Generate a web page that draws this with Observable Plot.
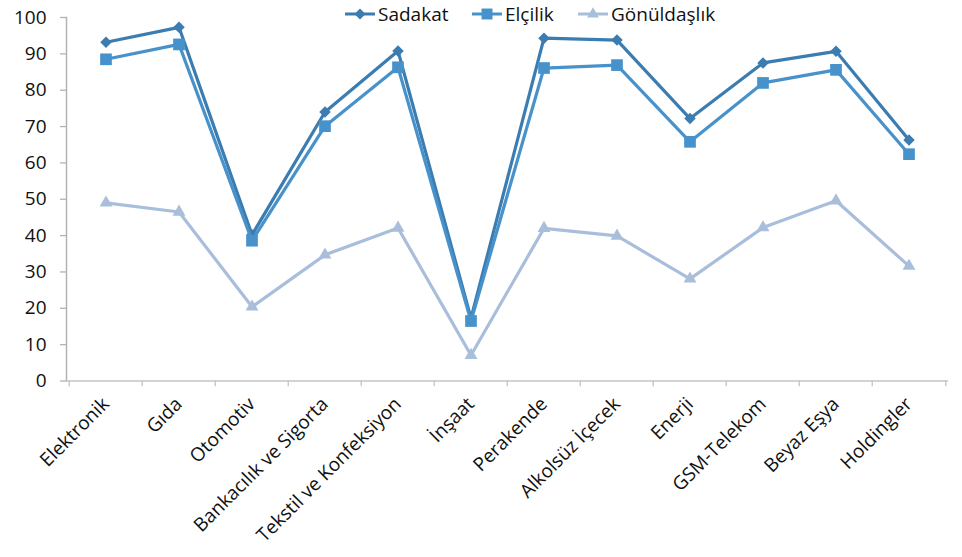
<!DOCTYPE html>
<html>
<head>
<meta charset="utf-8">
<script src="https://cdn.jsdelivr.net/npm/d3@7"></script>
<script src="https://cdn.jsdelivr.net/npm/@observablehq/plot@0.6"></script>
<style>
  html, body { margin: 0; padding: 0; background: #fff; }
  #wrap { position: relative; width: 962px; height: 557px; font-family: "Open Sans", sans-serif; }
  #legend { position: absolute; top: 0; left: 0; width: 962px; height: 27px; font-size: 19px; color: #111; }
  .item { position: absolute; top: 0; height: 27px; display: flex; align-items: center; gap: 3px; }
</style>
</head>
<body>
<div id="wrap">
  <div id="chart"></div>
  <div id="legend"></div>
</div>
<script>
const categories = ["Elektronik","Gıda","Otomotiv","Bankacılık ve Sigorta","Tekstil ve Konfeksiyon","İnşaat","Perakende","Alkolsüz İçecek","Enerji","GSM-Telekom","Beyaz Eşya","Holdingler"];
const seriesNames = ["Sadakat","Elçilik","Gönüldaşlık"];
const sadakat = [93.2, 97.3, 40.2, 74.0, 90.8, 17.3, 94.3, 93.8, 72.2, 87.5, 90.7, 66.3];
const elcilik = [88.5, 92.6, 38.6, 70.1, 86.3, 16.5, 86.1, 86.9, 65.8, 82.0, 85.6, 62.4];
const gonuldaslik = [49.0, 46.5, 20.4, 34.7, 42.1, 7.1, 42.0, 39.9, 28.1, 42.2, 49.6, 31.6];
const yTicks = [0,10,20,30,40,50,60,70,80,90,100];

const colors = {"Sadakat": "#3b7cb1", "Elçilik": "#4892cb", "Gönüldaşlık": "#a9bedb"};
const symbols = {"Sadakat": "square", "Elçilik": "square", "Gönüldaşlık": "triangle"};
const rotates = {"Sadakat": 45, "Elçilik": 0, "Gönüldaşlık": 0};
const radii = {"Sadakat": 4.6, "Elçilik": 6.6, "Gönüldaşlık": 4.8};
const legendLeft = {"Sadakat": 345, "Elçilik": 472, "Gönüldaşlık": 578};

const valuesBySeries = [sadakat, elcilik, gonuldaslik];
const rows = [];
seriesNames.forEach((s, i) => categories.forEach((c, j) => rows.push({series: s, category: c, value: valuesBySeries[i][j]})));

const W = 962, H = 557;
const mL = 66, mR = 14, mT = 17, mB = 176.5;
const step = (W - mL - mR) / categories.length;

const marks = [
  Plot.axisY({ticks: yTicks, tickSize: 6, tickPadding: 14, fontSize: 19, stroke: "#b3b3b3", fill: "#111", strokeWidth: 1.3, label: null}),
  Plot.frame({anchor: "left", stroke: "#b3b3b3", strokeWidth: 1.5}),
  Plot.ruleY([0], {stroke: "#c4c4c4", strokeWidth: 1.5}),
  Plot.ruleX(categories, {x: d => d, y1: 0, y2: -1.6, dx: -step / 2, stroke: "#c4c4c4", strokeWidth: 1.3}),
  Plot.ruleX(categories.slice(-1), {x: d => d, y1: 0, y2: -1.6, dx: step / 2, stroke: "#c4c4c4", strokeWidth: 1.3}),
  Plot.axisX({tickSize: 0, tickRotate: -45, tickPadding: 20, fontSize: 19, fill: "#111", label: null})
];
for (const s of seriesNames) {
  const data = rows.filter(r => r.series === s);
  marks.push(Plot.line(data, {x: "category", y: "value", stroke: colors[s], strokeWidth: 3.2}));
  marks.push(Plot.dot(data, {x: "category", y: "value", symbol: symbols[s], rotate: rotates[s], r: radii[s], fill: colors[s], stroke: "none"}));
}

const chart = Plot.plot({
  width: W, height: H,
  marginLeft: mL, marginRight: mR, marginTop: mT, marginBottom: mB,
  style: {fontFamily: "'Open Sans', sans-serif", background: "#fff", overflow: "visible"},
  x: {type: "band", domain: categories, padding: 0, axis: null},
  y: {domain: [0, 100], axis: null},
  marks
});
document.getElementById("chart").appendChild(chart);

// legend
const legend = document.getElementById("legend");
for (const s of seriesNames) {
  const item = document.createElement("div");
  item.className = "item";
  item.style.left = legendLeft[s] + "px";
  const sym = d3.symbol(s === "Gönüldaşlık" ? d3.symbolTriangle : d3.symbolSquare, s === "Elçilik" ? 120 : 60)();
  const rot = s === "Sadakat" ? 45 : 0;
  item.innerHTML = `<svg width="30" height="16"><line x1="0" y1="8" x2="30" y2="8" stroke="${colors[s]}" stroke-width="3"/><path d="${sym}" transform="translate(15,8) rotate(${rot})" fill="${colors[s]}"/></svg><span>${s}</span>`;
  legend.appendChild(item);
}
</script>
</body>
</html>
